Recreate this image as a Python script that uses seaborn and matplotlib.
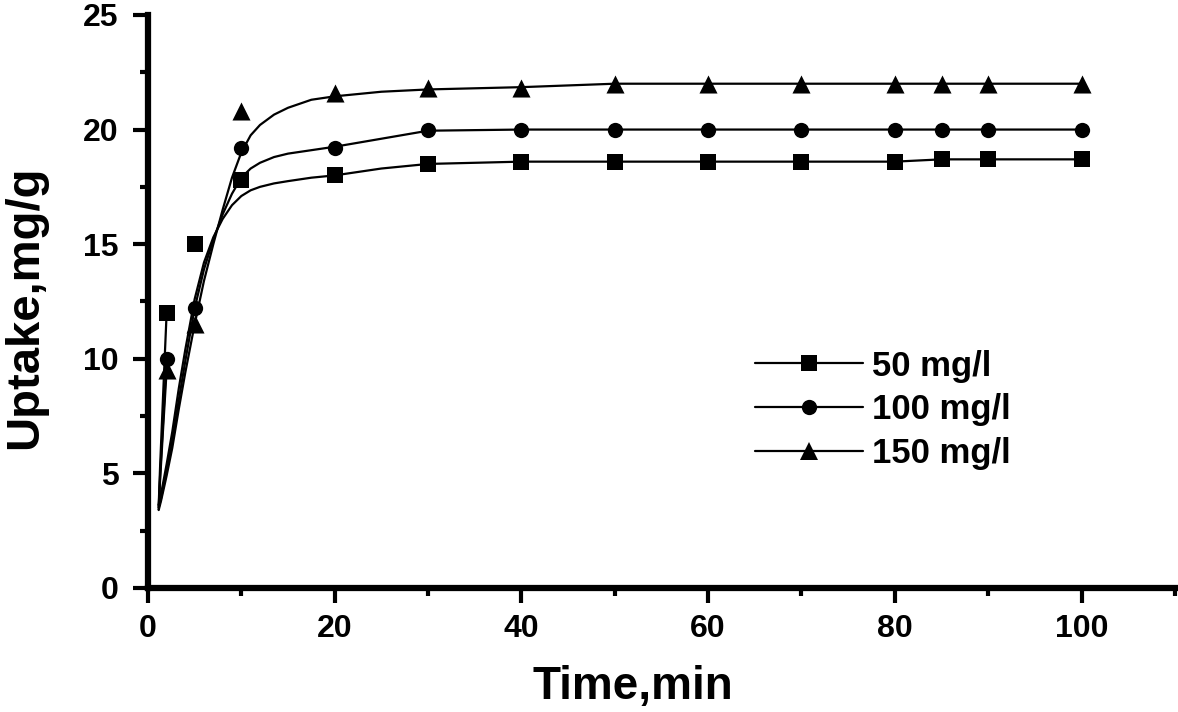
import numpy as np
import pandas as pd
import matplotlib
matplotlib.use("Agg")
import matplotlib.pyplot as plt
from matplotlib.lines import Line2D
from matplotlib.ticker import MultipleLocator
import seaborn as sns

# measured points
times = [2, 5, 10, 20, 30, 40, 50, 60, 70, 80, 85, 90, 100]
uptake_50 = [12.0, 15.0, 17.8, 18.0, 18.5, 18.6, 18.6, 18.6, 18.6, 18.6, 18.7, 18.7, 18.7]
uptake_100 = [10.0, 12.2, 19.2, 19.2, 20.0, 20.0, 20.0, 20.0, 20.0, 20.0, 20.0, 20.0, 20.0]
uptake_150 = [9.5, 11.5, 20.8, 21.6, 21.8, 21.8, 22.0, 22.0, 22.0, 22.0, 22.0, 22.0, 22.0]

# fitted curves (in drawing order)
curve_t = [2.0, 1.6, 1.3, 1.15, 1.4, 2.0, 2.6, 3.3, 4.0, 5.0, 6.0, 7.0, 8.0, 9.0, 10.0, 11.0,
           12.0, 13.5, 15.0, 17.5, 20.0, 25.0, 30.0, 40.0, 50.0, 60.0, 70.0, 80.0, 85.0, 90.0, 100.0]
curve_u_50 = [12.0, 8.2, 5.3, 3.6, 4.1, 5.4, 6.8, 8.7, 10.4, 12.6, 14.2, 15.3, 16.1, 16.7, 17.1, 17.35,
              17.5, 17.65, 17.75, 17.9, 18.0, 18.3, 18.5, 18.6, 18.6, 18.6, 18.6, 18.6, 18.7, 18.7, 18.7]
curve_u_100 = [10.0, 7.1, 4.9, 3.5, 3.9, 5.1, 6.4, 8.2, 9.9, 12.2, 13.9, 15.2, 16.3, 17.2, 17.9, 18.3,
               18.55, 18.8, 18.95, 19.1, 19.25, 19.6, 19.95, 20.0, 20.0, 20.0, 20.0, 20.0, 20.0, 20.0, 20.0]
curve_u_150 = [9.5, 6.8, 4.7, 3.4, 3.8, 4.9, 6.1, 7.8, 9.4, 11.5, 13.4, 15.0, 16.5, 17.9, 19.0, 19.75,
               20.2, 20.65, 20.95, 21.3, 21.45, 21.65, 21.75, 21.85, 22.0, 22.0, 22.0, 22.0, 22.0, 22.0, 22.0]

labels = ["50 mg/l", "100 mg/l", "150 mg/l"]
markers = ["s", "o", "^"]
msizes = [11, 11, 13]

sns.set_style("ticks")
plt.rcParams["font.family"] = ["Liberation Sans", "DejaVu Sans"]
plt.rcParams["font.weight"] = "bold"
for key in ["text.color", "axes.labelcolor", "xtick.color", "ytick.color", "axes.edgecolor"]:
    plt.rcParams[key] = "black"

fig = plt.figure(figsize=(11.78, 7.12), dpi=100)
ax = fig.add_axes([0.1256, 0.1742, 0.8718, 0.8048])

series = [
    (uptake_50, curve_u_50),
    (uptake_100, curve_u_100),
    (uptake_150, curve_u_150),
]
for (u, cu), lab, mk, ms in zip(series, labels, markers, msizes):
    cdf = pd.DataFrame({"t": curve_t, "u": cu})
    sns.lineplot(data=cdf, x="t", y="u", sort=False, estimator=None, color="black",
                 linewidth=1.6, ax=ax, legend=False)
    pdf = pd.DataFrame({"t": times, "u": u})
    sns.scatterplot(data=pdf, x="t", y="u", marker=mk, s=ms ** 2, color="black",
                    edgecolor="black", linewidth=0, ax=ax, legend=False, zorder=5)

ax.set_xlim(0, 110)
ax.set_ylim(0, 25)
ax.xaxis.set_major_locator(MultipleLocator(20))
ax.xaxis.set_minor_locator(MultipleLocator(10))
ax.yaxis.set_major_locator(MultipleLocator(5))
ax.yaxis.set_minor_locator(MultipleLocator(2.5))

sns.despine(ax=ax)
for side in ["left", "bottom"]:
    ax.spines[side].set_linewidth(4.5)
    ax.spines[side].set_color("black")

ax.tick_params(axis="both", which="major", direction="out", length=11, width=3, color="black",
               labelcolor="black", labelsize=23)
ax.tick_params(axis="both", which="minor", direction="out", length=6, width=3, color="black")
ax.tick_params(axis="y", which="major", pad=10)
ax.tick_params(axis="x", which="major", pad=8)
for lbl in ax.get_xticklabels() + ax.get_yticklabels():
    lbl.set_fontweight("bold")

ax.set_xlabel("Time,min", fontsize=33, fontweight="bold", color="black")
ax.set_ylabel("Uptake,mg/g", fontsize=34, fontweight="bold", color="black")
ax.xaxis.set_label_coords(0.472, -0.135)
ax.yaxis.set_label_coords(-0.098, 0.49)

handles = [Line2D([0], [0], color="black", linewidth=1.6, marker=mk, markersize=ms,
                  markerfacecolor="black", markeredgewidth=0)
           for mk, ms in zip(markers, msizes)]
leg = ax.legend(handles, labels, loc="upper left", bbox_to_anchor=(0.591, 0.416),
                frameon=False, borderpad=0, borderaxespad=0, handlelength=3.1,
                handletextpad=0.26, labelspacing=0.31, prop={"size": 25, "weight": "bold"})
for t in leg.get_texts():
    t.set_color("black")

fig.savefig("out.png", dpi=100)
